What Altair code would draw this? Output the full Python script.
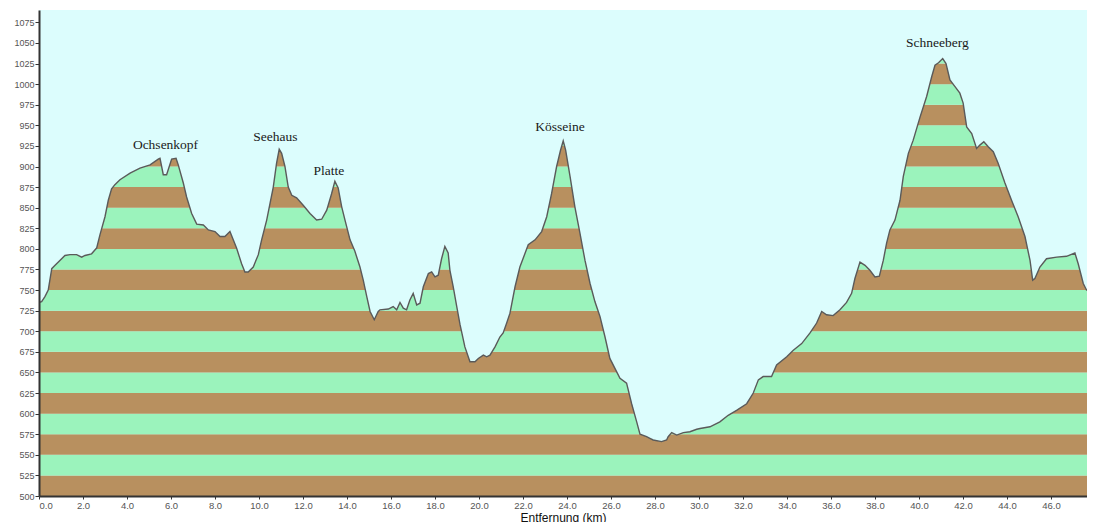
import altair as alt
import pandas as pd

# distance (km) and elevation (m) of the profile
km = [0.0, 0.12, 0.27, 0.42, 0.58, 0.73, 0.95, 1.18, 1.41, 1.71, 1.94, 2.09, 2.39, 2.55, 2.62, 2.77,
      3.0, 3.15, 3.3, 3.45, 3.68, 4.14, 4.59, 5.05, 5.42, 5.5, 5.65, 5.8, 6.03, 6.23, 6.33, 6.56,
      6.71, 6.94, 7.17, 7.47, 7.7, 8.0, 8.23, 8.45, 8.68, 8.83, 8.98, 9.21, 9.36, 9.51, 9.74, 9.97,
      10.12, 10.35, 10.5, 10.65, 10.8, 10.92, 11.03, 11.18, 11.33, 11.49, 11.71, 12.01, 12.32, 12.62,
      12.85, 13.08, 13.3, 13.45, 13.6, 13.76, 13.91, 14.14, 14.36, 14.59, 14.74, 14.9, 15.05, 15.24,
      15.42, 15.5, 15.88, 16.1, 16.26, 16.41, 16.56, 16.71, 16.86, 17.01, 17.17, 17.32, 17.47, 17.7,
      17.85, 18.0, 18.15, 18.3, 18.45, 18.6, 18.68, 18.83, 18.99, 19.14, 19.36, 19.59, 19.82, 19.97,
      20.2, 20.35, 20.5, 20.73, 20.95, 21.1, 21.26, 21.41, 21.64, 21.86, 22.24, 22.55, 22.85, 23.08,
      23.3, 23.53, 23.71, 23.83, 23.94, 24.14, 24.36, 24.59, 24.82, 25.05, 25.27, 25.5, 25.73, 25.95,
      26.18, 26.41, 26.71, 26.94, 27.17, 27.32, 27.62, 27.77, 27.92, 28.3, 28.53, 28.6, 28.76, 28.99,
      29.29, 29.59, 29.9, 30.05, 30.5, 30.95, 31.33, 31.71, 32.17, 32.47, 32.7, 32.92, 33.3, 33.53,
      33.99, 34.29, 34.67, 35.05, 35.35, 35.58, 35.8, 36.1, 36.41, 36.71, 36.94, 37.09, 37.32, 37.55,
      37.77, 38.0, 38.2, 38.38, 38.53, 38.68, 38.91, 39.14, 39.29, 39.52, 39.74, 40.05, 40.35, 40.58,
      40.73, 40.89, 41.08, 41.23, 41.41, 41.64, 41.86, 42.01, 42.17, 42.4, 42.62, 42.77, 42.95, 43.15,
      43.38, 43.6, 43.91, 44.21, 44.51, 44.82, 45.05, 45.17, 45.27, 45.5, 45.8, 46.26, 46.71, 47.09,
      47.24, 47.47, 47.62, 47.85, 48.0]
elev = [735, 736, 742, 750, 776, 780, 786, 792, 793, 793, 790, 792, 794, 799, 801, 817,
        839, 859, 873, 878, 884, 892, 898, 902, 909, 910, 890, 890, 909, 910, 902, 880,
        863, 843, 830, 829, 823, 821, 815, 815, 821, 811, 801, 782, 772, 772, 778, 793,
        811, 835, 855, 875, 904, 921, 916, 900, 875, 865, 862, 853, 843, 835,
        836, 847, 867, 882, 874, 851, 835, 811, 797, 778, 762, 742, 724, 714,
        724, 726, 727, 730, 726, 735, 728, 726, 738, 746, 732, 734, 754, 770,
        772, 766, 768, 788, 803, 795, 774, 754, 730, 708, 681, 663, 663, 667,
        671, 669, 671, 681, 693, 698, 710, 722, 754, 778, 805, 811, 821, 839,
        867, 900, 920, 931, 920, 888, 851, 819, 786, 758, 736, 718, 693, 667,
        655, 643, 637, 612, 590, 575, 572, 570, 568, 566, 568, 572, 577, 574,
        577, 578, 581, 582, 584, 590, 598, 604, 612, 625, 641, 645, 645, 659,
        669, 677, 685, 698, 710, 724, 720, 719, 726, 735, 746, 764, 784, 780,
        774, 766, 767, 786, 807, 823, 835, 859, 888, 916, 932, 960, 985, 1009,
        1023, 1026, 1031, 1025, 1005, 997, 989, 977, 948, 940, 922, 926, 930, 924,
        918, 904, 880, 859, 839, 815, 786, 762, 764, 778, 788, 790, 791, 795,
        782, 758, 750, 751, 752]

# peak names and label positions
peaks = ["Ochsenkopf", "Seehaus", "Platte", "Kösseine", "Schneeberg"]
peak_km = [5.75, 10.75, 13.18, 23.68, 40.84]
peak_elev = [926, 936, 894, 948, 1050]

# axis ticks
y_ticks = list(range(500, 1076, 25))
x_ticks = list(range(0, 49, 2))
x_domain = [0, 47.64]   # visible part of the 0-48 km axis
y_domain = [500, 1090]

BROWN = "#b8905f"
GREEN = "#9bf3bc"
SKY = "#dcfdfd"

profile = pd.DataFrame({"km": km, "elev": elev})
profile["top"] = y_domain[1]
bands = pd.DataFrame({
    "lo": y_ticks[:-1] + [y_ticks[-1]],
    "hi": y_ticks[1:] + [y_domain[1]],
})
bands["color"] = [BROWN if i % 2 == 0 else GREEN for i in range(len(bands))]
bands["x0"] = x_domain[0]
bands["x1"] = x_domain[1]
labels = pd.DataFrame({"name": peaks, "km": peak_km, "elev": peak_elev})

xscale = alt.Scale(domain=x_domain, nice=False, zero=False)
yscale = alt.Scale(domain=y_domain, nice=False, zero=False)

xaxis = alt.Axis(values=x_ticks, format=".1f", grid=False, title="Entfernung (km)",
                 labelFont="Liberation Sans", labelFontSize=9.5, labelColor="#555555",
                 tickColor="#333333", tickSize=3, domainColor="#333333", domainWidth=2,
                 labelPadding=1, titleFont="Liberation Sans", titleFontSize=12,
                 titleFontWeight="normal", titleColor="#111111", titlePadding=3,
                 labelOverlap=False, zindex=1)
yaxis = alt.Axis(values=y_ticks, format="d", grid=False, title=None,
                 labelFont="Liberation Sans", labelFontSize=9, labelColor="#555555",
                 tickColor="#333333", tickSize=4, domainColor="#333333", domainWidth=2,
                 labelPadding=1, labelOverlap=False, zindex=1)

X = lambda f: alt.X(f, scale=xscale, axis=xaxis)
Y = lambda f: alt.Y(f, scale=yscale, axis=yaxis)

band_layer = alt.Chart(bands).mark_rect(strokeWidth=0).encode(
    x=X("x0:Q"),
    x2="x1:Q",
    y=Y("lo:Q"),
    y2="hi:Q",
    color=alt.Color("color:N", scale=None),
)

sky = alt.Chart(profile).mark_area(color=SKY, opacity=1, clip=True).encode(
    x=X("km:Q"),
    y=Y("elev:Q"),
    y2="top:Q",
)

line = alt.Chart(profile).mark_line(color="#5a5a5a", strokeWidth=1.4, clip=True).encode(
    x=X("km:Q"),
    y=Y("elev:Q"),
)

text = alt.Chart(labels).mark_text(font="Liberation Serif", fontSize=13.5, color="#1a1a1a",
                                   baseline="middle", align="center").encode(
    x=X("km:Q"),
    y=Y("elev:Q"),
    text="name:N",
)

chart = alt.layer(band_layer, sky, line, text).properties(
    width=1048, height=486,
    autosize=alt.AutoSizeParams(type="none"),
    padding={"left": 31, "top": 2, "right": 0, "bottom": 30},
    background="white",
).configure_view(stroke=None, fill=SKY).configure_axis(labelOverlap=False)

chart.save("out.html", embed_options={"renderer": "svg", "actions": False})
